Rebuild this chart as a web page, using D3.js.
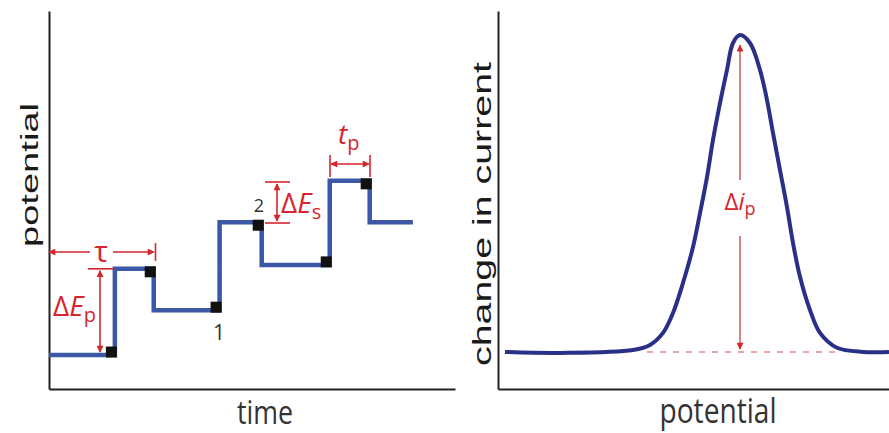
<!DOCTYPE html>
<html>
<head>
<meta charset="utf-8">
<script src="https://cdn.jsdelivr.net/npm/d3@7"></script>
<style>
  body { margin: 0; background: #fff; }
  svg { display: block; }
</style>
</head>
<body>
<script>
// left panel: staircase + pulse waveform (time in units of tau, potential in units of dEs)
var stepTime = [0, 0.61, 0.97, 1.58, 1.97, 2.60, 2.97, 3.37];
var stepPotential = [0, 1.98, 1.03, 3.05, 2.07, 4.0, 3.05, 3.05];

// right panel: differential current vs potential
var scanPotential = [-2.35, -1.8, -1.07, -0.9, -0.77, -0.67, -0.57, -0.47, -0.40, -0.33, -0.27, -0.20, -0.13, -0.07, 0,
  0.10, 0.20, 0.27, 0.33, 0.40, 0.47, 0.53, 0.60, 0.70, 0.80, 0.97, 1.23, 1.49];
var deltaCurrent = [0, -0.003, 0.006, 0.022, 0.06, 0.123, 0.218, 0.331, 0.438, 0.552, 0.669, 0.785, 0.89, 0.975, 1,
  0.975, 0.89, 0.795, 0.691, 0.574, 0.457, 0.344, 0.237, 0.132, 0.06, 0.013, 0, 0];

var red = '#d5262e';

document.addEventListener('DOMContentLoaded', function() {

  var svg = d3.select('body').append('svg').attr('width', 889).attr('height', 433);

  var defs = svg.append('defs');
  defs.append('marker')
    .attr('id', 'arrow')
    .attr('viewBox', '0 0 10 10')
    .attr('refX', 9).attr('refY', 5)
    .attr('markerWidth', 9).attr('markerHeight', 7)
    .attr('markerUnits', 'userSpaceOnUse')
    .attr('orient', 'auto-start-reverse')
    .append('path').attr('d', 'M0,0 L10,5 L0,10 z').attr('fill', red);

  // ---------- left panel ----------
  var x1 = d3.scaleLinear().domain([0, 3.76]).range([49, 455]);
  var y1 = d3.scaleLinear().domain([-0.78, 7.9]).range([389, 11]);

  svg.append('g').attr('transform', 'translate(0,389)')
    .call(d3.axisBottom(x1).ticks(0).tickSizeOuter(0))
    .call(function(g) { g.select('.domain').attr('stroke', '#222').attr('stroke-width', 2); });
  svg.append('g').attr('transform', 'translate(49,0)')
    .call(d3.axisLeft(y1).ticks(0).tickSizeOuter(0))
    .call(function(g) { g.select('.domain').attr('stroke', '#222').attr('stroke-width', 2); });

  var steps = stepTime.map(function(t, i) { return [t, stepPotential[i]]; });
  var stepLine = d3.line()
    .x(function(d) { return x1(d[0]); })
    .y(function(d) { return y1(d[1]); })
    .curve(d3.curveStepAfter);

  svg.append('path')
    .datum(steps)
    .attr('d', stepLine)
    .attr('fill', 'none')
    .attr('stroke', '#3b57a6')
    .attr('stroke-width', 4.5);

  // sampling points at end of each level
  var samples = steps.slice(0, steps.length - 2).map(function(d, i) {
    return { t: steps[i + 1][0], e: d[1], up: steps[i + 1][1] > d[1] };
  });
  svg.selectAll('rect.sample').data(samples).enter().append('rect')
    .attr('class', 'sample')
    .attr('x', function(d) { return x1(d.t) - 9; })
    .attr('y', function(d) { return y1(d.e) + (d.up ? -8.5 : -2.5); })
    .attr('width', 11).attr('height', 11)
    .attr('fill', '#111');

  // tau
  svg.append('line').attr('x1', 49).attr('x2', 90).attr('y1', 252).attr('y2', 252)
    .attr('stroke', red).attr('stroke-width', 1.6).attr('marker-start', 'url(#arrow)');
  svg.append('line').attr('x1', 113).attr('x2', 154).attr('y1', 252).attr('y2', 252)
    .attr('stroke', red).attr('stroke-width', 1.6).attr('marker-end', 'url(#arrow)');
  svg.append('line').attr('x1', 155.5).attr('x2', 155.5).attr('y1', 243).attr('y2', 261)
    .attr('stroke', red).attr('stroke-width', 1.6);
  svg.append('text').attr('x', 101).attr('y', 262).attr('text-anchor', 'middle')
    .attr('font-family', 'Open Sans').attr('font-size', 29).attr('fill', red).text('τ');

  // dEp
  svg.append('line').attr('x1', 88).attr('x2', 113).attr('y1', y1(stepPotential[1])).attr('y2', y1(stepPotential[1]))
    .attr('stroke', red).attr('stroke-width', 1.6);
  svg.append('line').attr('x1', 100).attr('x2', 100).attr('y1', y1(stepPotential[1]) + 2).attr('y2', y1(stepPotential[0]) - 3)
    .attr('stroke', red).attr('stroke-width', 1.6)
    .attr('marker-start', 'url(#arrow)').attr('marker-end', 'url(#arrow)');
  var tEp = svg.append('text').attr('x', 53).attr('y', 316)
    .attr('font-family', 'Open Sans').attr('font-size', 28).attr('fill', red);
  tEp.append('tspan').text('Δ');
  tEp.append('tspan').attr('font-style', 'italic').text('E');
  tEp.append('tspan').attr('font-size', 20).attr('dy', 6).text('p');

  // dEs
  [182, 223].forEach(function(yy) {
    svg.append('line').attr('x1', 265).attr('x2', 290).attr('y1', yy).attr('y2', yy)
      .attr('stroke', red).attr('stroke-width', 1.6);
  });
  svg.append('line').attr('x1', 277).attr('x2', 277).attr('y1', 184).attr('y2', 221)
    .attr('stroke', red).attr('stroke-width', 1.6)
    .attr('marker-start', 'url(#arrow)').attr('marker-end', 'url(#arrow)');
  var tEs = svg.append('text').attr('x', 281).attr('y', 213)
    .attr('font-family', 'Open Sans').attr('font-size', 28).attr('fill', red);
  tEs.append('tspan').text('Δ');
  tEs.append('tspan').attr('font-style', 'italic').text('E');
  tEs.append('tspan').attr('font-size', 20).attr('dy', 6).text('s');

  // tp
  [330, 370].forEach(function(xx) {
    svg.append('line').attr('x1', xx).attr('x2', xx).attr('y1', 155).attr('y2', 177)
      .attr('stroke', red).attr('stroke-width', 1.6);
  });
  svg.append('line').attr('x1', 331).attr('x2', 369).attr('y1', 164).attr('y2', 164)
    .attr('stroke', red).attr('stroke-width', 1.6)
    .attr('marker-start', 'url(#arrow)').attr('marker-end', 'url(#arrow)');
  var tTp = svg.append('text').attr('x', 338).attr('y', 144)
    .attr('font-family', 'Open Sans').attr('font-size', 28).attr('fill', red);
  tTp.append('tspan').attr('font-style', 'italic').text('t');
  tTp.append('tspan').attr('font-size', 20).attr('dy', 6).text('p');

  svg.append('text').attr('x', 259).attr('y', 212).attr('text-anchor', 'middle')
    .attr('font-family', 'Open Sans').attr('font-size', 18).attr('fill', '#333').text('2');
  svg.append('text').attr('x', 219).attr('y', 340).attr('text-anchor', 'middle')
    .attr('font-family', 'Open Sans').attr('font-size', 21).attr('fill', '#333').text('1');

  svg.append('text')
    .attr('transform', 'translate(38,175) rotate(-90)')
    .attr('text-anchor', 'middle')
    .attr('font-family', 'Liberation Sans').attr('font-size', 23).attr('fill', '#1a1a1a')
    .attr('textLength', 144).attr('lengthAdjust', 'spacingAndGlyphs')
    .text('potential');
  svg.append('text').attr('x', 265).attr('y', 424).attr('text-anchor', 'middle')
    .attr('font-family', 'Open Sans').attr('font-size', 32).attr('fill', '#333')
    .attr('textLength', 56).attr('lengthAdjust', 'spacingAndGlyphs')
    .text('time');

  // ---------- right panel ----------
  var x2 = d3.scaleLinear().domain([-2.42, 1.49]).range([498, 889]);
  var y2 = d3.scaleLinear().domain([-0.117, 1.076]).range([389, 11]);

  svg.append('g').attr('transform', 'translate(0,389)')
    .call(d3.axisBottom(x2).ticks(0).tickSizeOuter(0))
    .call(function(g) { g.select('.domain').attr('stroke', '#222').attr('stroke-width', 2); });
  svg.append('g').attr('transform', 'translate(498,0)')
    .call(d3.axisLeft(y2).ticks(0).tickSizeOuter(0))
    .call(function(g) { g.select('.domain').attr('stroke', '#222').attr('stroke-width', 2); });

  // baseline dashes
  svg.append('line')
    .attr('x1', x2(-0.93)).attr('x2', x2(1.0)).attr('y1', y2(0)).attr('y2', y2(0))
    .attr('stroke', '#e58a8a').attr('stroke-width', 1.5).attr('stroke-dasharray', '6,7');

  var peak = scanPotential.map(function(e, i) { return [e, deltaCurrent[i]]; });
  svg.append('path')
    .datum(peak)
    .attr('d', d3.line()
      .x(function(d) { return x2(d[0]); })
      .y(function(d) { return y2(d[1]); })
      .curve(d3.curveCatmullRom.alpha(0.5)))
    .attr('fill', 'none')
    .attr('stroke', '#2a3088')
    .attr('stroke-width', 4);

  var peakIdx = d3.maxIndex(deltaCurrent);
  var px = x2(scanPotential[peakIdx]);
  svg.append('line').attr('x1', px).attr('x2', px).attr('y1', y2(deltaCurrent[peakIdx]) + 10).attr('y2', 180)
    .attr('stroke', '#b8323a').attr('stroke-width', 1.2).attr('marker-start', 'url(#arrow)');
  svg.append('line').attr('x1', px).attr('x2', px).attr('y1', 236).attr('y2', y2(0) - 3)
    .attr('stroke', '#b8323a').attr('stroke-width', 1.2).attr('marker-end', 'url(#arrow)');
  var tIp = svg.append('text').attr('x', px).attr('y', 210).attr('text-anchor', 'middle')
    .attr('font-family', 'Open Sans').attr('font-size', 24).attr('fill', red);
  tIp.append('tspan').text('Δ');
  tIp.append('tspan').attr('font-style', 'italic').text('i');
  tIp.append('tspan').attr('font-size', 18).attr('dy', 5).text('p');

  svg.append('text')
    .attr('transform', 'translate(491,214) rotate(-90)')
    .attr('text-anchor', 'middle')
    .attr('font-family', 'Liberation Sans').attr('font-size', 26).attr('fill', '#1a1a1a')
    .attr('textLength', 304).attr('lengthAdjust', 'spacingAndGlyphs')
    .text('change in current');
  svg.append('text').attr('x', 718).attr('y', 423).attr('text-anchor', 'middle')
    .attr('font-family', 'Open Sans').attr('font-size', 34).attr('fill', '#333')
    .attr('textLength', 117).attr('lengthAdjust', 'spacingAndGlyphs')
    .text('potential');

});
</script>
</body>
</html>
